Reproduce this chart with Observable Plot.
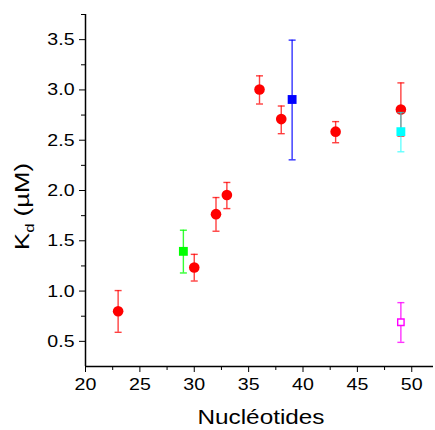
<!DOCTYPE html>
<html><head><meta charset="utf-8">
<script src="https://cdn.jsdelivr.net/npm/d3@7"></script>
<script src="https://cdn.jsdelivr.net/npm/@observablehq/plot@0.6"></script>
<style>body{margin:0;background:#fff}</style>
</head><body><div id="chart"></div>
<script>
// Red circles
const redX  = [23, 30, 32, 33, 36, 38, 43, 49];
const redY  = [0.80, 1.235, 1.765, 1.955, 3.005, 2.71, 2.585, 2.805];
const redLo = [0.59, 1.10, 1.595, 1.82, 2.86, 2.565, 2.475, 2.54];
const redHi = [1.005, 1.365, 1.93, 2.08, 3.14, 2.84, 2.685, 3.07];
// Other series (one point each)
const series = [
  {name: "green",   x: 29, y: 1.395, lo: 1.18, hi: 1.605, color: "#00ff00", fill: "#00ff00"},
  {name: "blue",    x: 39, y: 2.905, lo: 2.305, hi: 3.495, color: "#0000ff", fill: "#0000ff"},
  {name: "cyan",    x: 49, y: 2.585, lo: 2.385, hi: 2.775, color: "#00ffff", fill: "#00ffff"},
  {name: "magenta", x: 49, y: 0.69,  lo: 0.49,  hi: 0.885, color: "#ff00ff", fill: "white"}
];
const xTicks = [20, 25, 30, 35, 40, 45, 50];
const xMinor = [22.5, 27.5, 32.5, 37.5, 42.5, 47.5];
const yTicks = [0.5, 1.0, 1.5, 2.0, 2.5, 3.0, 3.5];
const yMinor = [0.75, 1.25, 1.75, 2.25, 2.75, 3.25, 3.75];

const red = redX.map((x, i) => ({x, y: redY[i], lo: redLo[i], hi: redHi[i]}));

const cap = {draw(ctx, size) { const w = Math.sqrt(size / Math.PI); ctx.moveTo(-w, 0); ctx.lineTo(w, 0); }};

const font = "Liberation Sans, Arial, sans-serif";

function errMarks(data, color, opacity) {
  return [
    Plot.ruleX(data, {x: "x", y1: "lo", y2: "hi", stroke: color, strokeWidth: 1.4, strokeOpacity: opacity}),
    Plot.dot(data, {x: "x", y: "lo", symbol: cap, r: 3.5, stroke: color, strokeWidth: 1.4, strokeOpacity: opacity}),
    Plot.dot(data, {x: "x", y: "hi", symbol: cap, r: 3.5, stroke: color, strokeWidth: 1.4, strokeOpacity: opacity})
  ];
}

const marks = [
  Plot.axisX({ticks: xTicks, tickSize: 6, tickPadding: 5, tickFormat: d => d, fontSize: 17, label: null}),
  Plot.axisX({ticks: xMinor, tickSize: 4, tickFormat: () => "", label: null}),
  Plot.axisY({ticks: yTicks, tickSize: 6, tickPadding: 5, tickFormat: d => d.toFixed(1), fontSize: 17, label: null}),
  Plot.axisY({ticks: yMinor, tickSize: 4, tickFormat: () => "", label: null}),
  Plot.ruleX([20], {stroke: "black", strokeWidth: 1.5}),
  Plot.ruleY([0.25], {stroke: "black", strokeWidth: 1.5}),
  ...errMarks(red, "#ff0000", 0.75),
  Plot.dot(red, {x: "x", y: "y", r: 5.3, fill: "#ff0000", stroke: "none"})
];
for (const s of series) {
  marks.push(...errMarks([s], s.color, s.name === "cyan" ? 0.6 : 0.8));
  marks.push(Plot.dot([s], {x: "x", y: "y", symbol: "square", r: s.fill === "white" ? 3.6 : 5.0,
    fill: s.fill, stroke: s.color, strokeWidth: s.fill === "white" ? 1.4 : 0}));
}

const chart = Plot.plot({
  width: 435, height: 430,
  marginLeft: 85, marginRight: 2, marginTop: 14, marginBottom: 64,
  x: {domain: [20, 52]},
  y: {domain: [0.25, 3.75]},
  style: {fontFamily: font, color: "black", background: "white", overflow: "visible"},
  marks
});
document.getElementById("chart").appendChild(chart);

const svg = d3.select(chart);
// horizontally widen tick labels to match the reference's glyph proportions
svg.selectAll("g[aria-label$='tick label'] text").each(function() {
  const len = this.getComputedTextLength();
  if (len > 0) {
    this.setAttribute("textLength", (len * 1.15).toFixed(1));
    this.setAttribute("lengthAdjust", "spacingAndGlyphs");
  }
});
svg.append("text")
  .attr("x", 261).attr("y", 424)
  .attr("text-anchor", "middle")
  .attr("font-family", font).attr("font-size", 20).attr("fill", "black")
  .attr("textLength", 127).attr("lengthAdjust", "spacingAndGlyphs")
  .text("Nucléotides");
const yl = svg.append("text")
  .attr("transform", "translate(28.5,206.5) rotate(-90)")
  .attr("text-anchor", "middle")
  .attr("font-family", font).attr("font-size", 20).attr("fill", "black");
yl.append("tspan").text("K");
yl.append("tspan").attr("font-size", 13).attr("dy", 5).text("d");
yl.append("tspan").attr("dy", -5).text(" (µM)");
yl.attr("textLength", 87).attr("lengthAdjust", "spacingAndGlyphs");
</script>
</body></html>
